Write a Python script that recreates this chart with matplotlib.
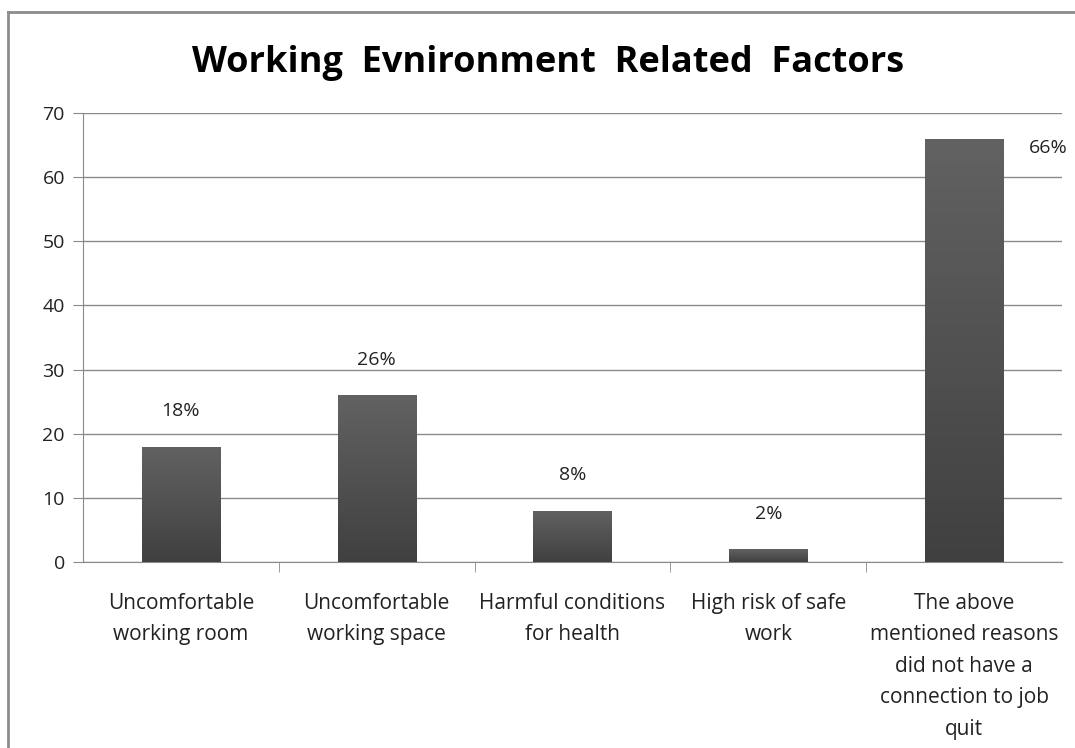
import numpy as np
import matplotlib.pyplot as plt
from matplotlib.lines import Line2D
from matplotlib.colors import LinearSegmentedColormap

categories = [
    "Uncomfortable\nworking room",
    "Uncomfortable\nworking space",
    "Harmful conditions\nfor health",
    "High risk of safe\nwork",
    "The above\nmentioned reasons\ndid not have a\nconnection to job\nquit",
]
values = [18, 26, 8, 2, 66]
labels = ["18%", "26%", "8%", "2%", "66%"]

plt.rcParams["font.family"] = ["Open Sans", "DejaVu Sans"]

fig = plt.figure(figsize=(10.75, 7.48), dpi=100)
ax = fig.add_axes([0.0772, 0.2487, 0.9107, 0.6002])

x = np.arange(len(values))
bars = ax.bar(x, values, width=0.4, color="#555555", zorder=3)

# vertical gradient inside each bar
cmap = LinearSegmentedColormap.from_list("g", ["#404040", "#626262"])
grad = np.linspace(0, 1, 256).reshape(-1, 1)
for b in bars:
    x0, y0 = b.get_x(), b.get_y()
    w, h = b.get_width(), b.get_height()
    im = ax.imshow(grad, extent=[x0, x0 + w, y0, y0 + h], origin="lower",
                   cmap=cmap, aspect="auto", zorder=4)
    im.set_clip_path(b)

# value labels
for i, (v, lab) in enumerate(zip(values, labels)):
    if i == len(values) - 1:
        ax.text(i + 0.43, v - 1.5, lab, ha="center", va="center", fontsize=14, color="#222222")
    else:
        ax.text(i, v + 5.5, lab, ha="center", va="center", fontsize=14, color="#222222")

ax.set_xlim(-0.5, len(values) - 0.5)
ax.set_ylim(0, 70)
ax.set_yticks(range(0, 71, 10))
ax.yaxis.grid(True, color="#8a8a8a", linewidth=1.0, zorder=0)
ax.set_axisbelow(True)

ax.set_xticks(x)
ax.set_xticklabels(categories, fontsize=15, linespacing=1.66, color="#222222")
ax.set_xticks(np.arange(0.5, len(values) - 0.5, 1), minor=True)
ax.tick_params(axis="x", which="major", length=0, pad=22)
ax.tick_params(axis="x", which="minor", length=7, color="#8a8a8a")
ax.tick_params(axis="y", length=7, color="#8a8a8a", labelsize=14, labelcolor="#222222", pad=6)

for s in ["top", "right"]:
    ax.spines[s].set_visible(False)
for s in ["left", "bottom"]:
    ax.spines[s].set_color("#8a8a8a")

fig.text(0.51, 0.916, "Working  Evnironment  Related  Factors", ha="center", va="center",
         fontsize=26, fontweight="bold", color="black")

# outer frame (cropped at right and bottom)
fig.add_artist(Line2D([8 / 1075, 1.0], [1 - 12 / 748, 1 - 12 / 748], transform=fig.transFigure,
                      color="#8c8c8c", linewidth=2))
fig.add_artist(Line2D([8 / 1075, 8 / 1075], [0.0, 1 - 12 / 748], transform=fig.transFigure,
                      color="#8c8c8c", linewidth=2))

plt.savefig("out.png", dpi=100)
